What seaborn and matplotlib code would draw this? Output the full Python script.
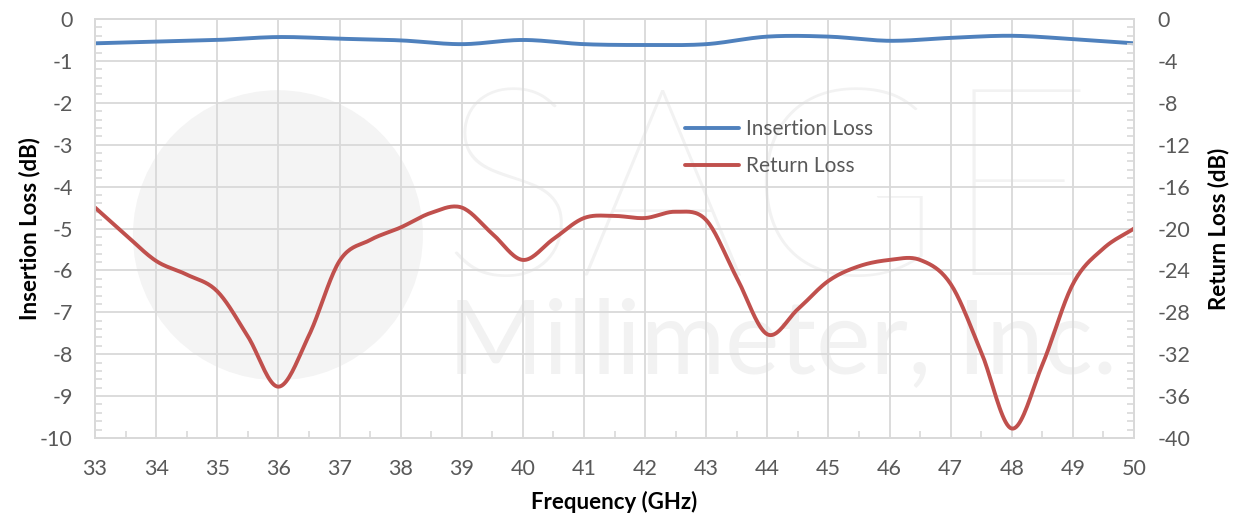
import numpy as np
import pandas as pd
import matplotlib
matplotlib.use("Agg")
import matplotlib.pyplot as plt
from matplotlib.ticker import MultipleLocator, AutoMinorLocator
from matplotlib.patches import Ellipse
import seaborn as sns

# data
freq_il = [33, 34, 35, 36, 37, 38, 39, 40, 41, 42, 43, 44, 45, 46, 47, 48, 49, 50]
insertion_loss = [-0.58, -0.54, -0.50, -0.43, -0.47, -0.51, -0.60, -0.50, -0.60,
                  -0.62, -0.60, -0.42, -0.42, -0.52, -0.45, -0.40, -0.48, -0.58]

freq_rl = [33, 33.5, 34, 34.5, 35, 35.5, 36, 36.5, 37, 37.5, 38, 38.5, 39, 39.5,
           40, 40.5, 41, 41.5, 42, 42.5, 43, 43.5, 44, 44.5, 45, 45.5, 46, 46.5,
           47, 47.5, 48, 48.5, 49, 49.5, 50]
return_loss = [-18.0, -20.6, -23.1, -24.4, -26.0, -30.3, -35.1, -30.2, -23.1, -21.1,
               -19.9, -18.5, -18.0, -20.5, -23.0, -21.0, -19.0, -18.8, -19.0, -18.4,
               -19.2, -24.7, -30.1, -27.7, -25.0, -23.6, -23.0, -23.0, -25.3, -31.8,
               -39.1, -33.0, -25.3, -21.9, -20.0]


def smooth(x, y, n=20):
    # catmull-rom, like excel's "smoothed line"
    x = np.asarray(x, float)
    y = np.asarray(y, float)
    px = np.concatenate([[2 * x[0] - x[1]], x, [2 * x[-1] - x[-2]]])
    py = np.concatenate([[2 * y[0] - y[1]], y, [2 * y[-1] - y[-2]]])
    xs, ys = [], []
    t = np.linspace(0, 1, n, endpoint=False)
    for i in range(1, len(px) - 2):
        for p, out in ((px, xs), (py, ys)):
            p0, p1, p2, p3 = p[i - 1], p[i], p[i + 1], p[i + 2]
            out.append(0.5 * (2 * p1 + (-p0 + p2) * t + (2 * p0 - 5 * p1 + 4 * p2 - p3) * t ** 2
                              + (-p0 + 3 * p1 - 3 * p2 + p3) * t ** 3))
    xs.append([x[-1]])
    ys.append([y[-1]])
    return np.concatenate(xs), np.concatenate(ys)


sns.set_theme(style="white")
plt.rcParams['font.family'] = ['Lato', 'DejaVu Sans']
plt.rcParams['axes.unicode_minus'] = False

grid_c = '#d9d9d9'
text_c = '#595959'
blue = '#4f81bd'
red = '#c0504d'
wm_c = '#f2f2f2'

fig = plt.figure(figsize=(12.41, 5.21), dpi=100)
ax = fig.add_axes([0.0766, 0.1593, 0.8372, 0.8042])

# faint watermark
ax.add_patch(Ellipse((0.176, 0.484), 290 / 1039, 290 / 419, transform=ax.transAxes,
                     color='#f4f4f4', zorder=0, ec='none'))
ax.text(0.647, 0.56, 'SAGE', transform=ax.transAxes, fontsize=190, color=wm_c,
        ha='center', va='center', fontweight='light', zorder=0)
ax.text(0.662, 0.225, 'Millimeter, Inc.', transform=ax.transAxes, fontsize=74,
        color=wm_c, ha='center', va='center', zorder=0)

ax2 = ax.twinx()

xi, yi = smooth(freq_il, insertion_loss)
il_df = pd.DataFrame({'Frequency': xi, 'Insertion Loss': yi})
sns.lineplot(data=il_df, x='Frequency', y='Insertion Loss', ax=ax, color=blue,
             lw=2.8, sort=False, label='Insertion Loss', legend=False)

xr, yr = smooth(freq_rl, return_loss)
rl_df = pd.DataFrame({'Frequency': xr, 'Return Loss': yr})
sns.lineplot(data=rl_df, x='Frequency', y='Return Loss', ax=ax2, color=red,
             lw=2.8, sort=False, label='Return Loss', legend=False)

ax.set_xlim(33, 50)
ax.set_ylim(-10, 0)
ax2.set_ylim(-40, 0)
ax.xaxis.set_major_locator(MultipleLocator(1))
ax.xaxis.set_minor_locator(MultipleLocator(0.5))
ax.yaxis.set_major_locator(MultipleLocator(1))
ax.yaxis.set_minor_locator(AutoMinorLocator(5))
ax2.yaxis.set_major_locator(MultipleLocator(4))
ax2.yaxis.set_minor_locator(AutoMinorLocator(5))

ax.grid(True, which='major', color=grid_c, lw=1.3)
ax.set_axisbelow(True)
for a in (ax, ax2):
    for s in a.spines.values():
        s.set_color(grid_c)
        s.set_linewidth(1.3)
    a.tick_params(which='both', colors=grid_c, labelcolor=text_c, labelsize=15.5,
                  direction='in')
    a.tick_params(which='major', length=0)
    a.tick_params(which='minor', length=5, width=1.2)
ax.tick_params(axis='x', which='major', pad=15)
ax.tick_params(axis='y', which='major', pad=16)
ax2.tick_params(axis='y', which='major', pad=17)
ax.tick_params(axis='y', which='minor', left=True)
ax.tick_params(axis='x', which='minor', bottom=True)
ax2.tick_params(axis='y', which='minor', right=True)

ax.set_xlabel('Frequency (GHz)', fontsize=16, fontweight='bold', color='black', labelpad=9)
ax.set_ylabel('Insertion Loss (dB)', fontsize=16, fontweight='bold', color='black', labelpad=0)
ax2.set_ylabel('Return Loss (dB)', fontsize=16, fontweight='bold', color='black', labelpad=12)

handles = ax.get_lines()[:1] + ax2.get_lines()[:1]
leg = ax2.legend(handles, ['Insertion Loss', 'Return Loss'], loc='upper left',
                 bbox_to_anchor=(0.55, 0.805), frameon=False, fontsize=15,
                 handlelength=2.6, labelspacing=0.8, handletextpad=0.3)
for t in leg.get_texts():
    t.set_color(text_c)

fig.savefig('out.png', dpi=100)
